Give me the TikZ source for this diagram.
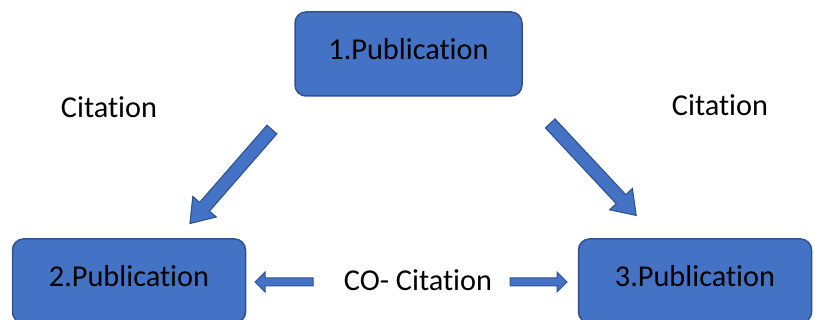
\documentclass[tikz,border=0pt]{standalone}
\usepackage{fontspec}
\setmainfont[Ligatures=NoCommon]{Carlito}
\usetikzlibrary{shapes.arrows,calc}
\definecolor{boxblue}{HTML}{4472C4}
\definecolor{boxborder}{HTML}{2F528F}
\tikzset{
  pubbox/.style={draw=boxborder, fill=boxblue, line width=1.5pt, rounded corners=11pt,
    minimum width=#1, minimum height=84pt, inner sep=0pt, text depth=10pt,
    font=\fontsize{30.3}{36}\selectfont},
  pubbox/.default=227pt,
  lbl/.style={font=\fontsize{30.3}{36}\selectfont, inner sep=0pt},
  bigarrow/.style={single arrow, draw=boxborder, fill=boxblue, line width=1.1pt,
    inner sep=0pt, single arrow head extend=9pt, single arrow tip angle=70,
    single arrow head indent=0pt},
  smallarrow/.style={single arrow, draw=boxborder, fill=boxblue, line width=1pt,
    inner sep=0pt, single arrow head extend=6pt, single arrow tip angle=90,
    single arrow head indent=0pt},
}
\newcommand{\blockarrow}[4]{%
  \path let \p1=($(#3)-(#2)$), \n1={veclen(\x1,\y1)} in
    (#2) -- (#3) node[midway, sloped, allow upside down, #1, minimum height=\n1] {\rule{0pt}{#4}};%
}
\begin{document}
\begin{tikzpicture}[x=1pt, y=-1pt]
  \useasboundingbox (0,0) rectangle (814,320);
  \clip (0,0) rectangle (814,320);
  \node[pubbox=227pt] (p1) at (408.5,54) {1.Publication};
  \node[pubbox=233pt] (p2) at (129,281) {2.Publication};
  \node[pubbox=233pt] (p3) at (695,281) {3.Publication};
  \node[lbl] (c1) at (109,107) {Citation};
  \node[lbl] (c2) at (720,105) {Citation};
  \node[lbl] (co) at (418,280) {CO- Citation};
  \coordinate (a1s) at (275,126);
  \coordinate (a1t) at (193,220);
  \coordinate (a2s) at (547,120);
  \coordinate (a2t) at (633,212);
  \coordinate (a3s) at (315,282);
  \coordinate (a3t) at (257,282);
  \coordinate (a4s) at (508,282);
  \coordinate (a4t) at (565,282);
  \blockarrow{bigarrow}{a1s}{a1t}{12pt}
  \blockarrow{bigarrow}{a2s}{a2t}{12pt}
  \blockarrow{smallarrow}{a3s}{a3t}{7pt}
  \blockarrow{smallarrow}{a4s}{a4t}{7pt}
\end{tikzpicture}
\end{document}
